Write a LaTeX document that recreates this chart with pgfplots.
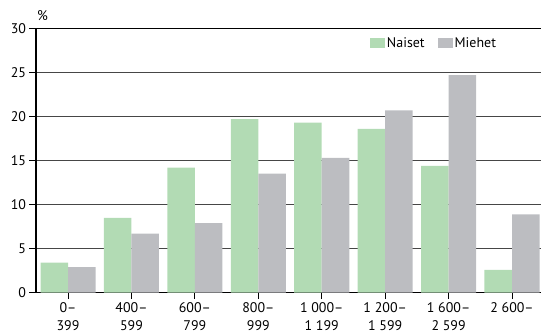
\documentclass[border=0pt]{standalone}
\usepackage{fontspec}
\setmainfont{PT Sans}
\usepackage{pgfplots}
\pgfplotsset{compat=1.18}
\definecolor{naiset}{RGB}{178,219,180}
\definecolor{miehet}{RGB}{188,189,193}
\definecolor{gridc}{RGB}{70,70,70}

\begin{document}
\begin{tikzpicture}[font=\fontsize{14}{16}\selectfont]
\begin{axis}[
    scale only axis, clip=false,
    width=505bp, height=264.4bp,
    ybar=0pt, bar width=0.434,
    xmin=-0.505, xmax=7.457,
    ymin=0, ymax=30,
    ytick={0,5,...,30},
    xtick={0,...,7},
    xticklabels={0--\\399, 400--\\599, 600--\\799, 800--\\999,
                 1 000--\\1 199, 1 200--\\1 599, 1 600--\\2 599, 2 600--},
    tick label style={font=\fontsize{14}{18}\selectfont},
    xticklabel style={align=center},
    /pgf/number format/assume math mode=true,
    axis x line*=bottom, axis y line*=left,
    axis line style={black, line width=1.2bp},
    tick style={black, line width=0.8bp},
    tick align=outside, major tick length=6.5bp,
    ymajorgrids, grid style={gridc, line width=0.8bp},
    legend style={at={(rel axis cs:0.661,0.944)}, anchor=west, draw=none,
                  fill=none, inner sep=0pt, legend columns=2,
                  font=\fontsize{14}{16}\selectfont,
                  /tikz/every even column/.append style={column sep=11bp}},
    legend image code/.code={\fill[#1] (0bp,-5bp) rectangle (15bp,5bp);},
]
\addplot[fill=naiset, draw=none] coordinates {
    (0,3.4) (1,8.5) (2,14.2) (3,19.7) (4,19.3) (5,18.6) (6,14.4) (7,2.6)};
\addplot[fill=miehet, draw=none] coordinates {
    (0,2.9) (1,6.7) (2,7.9) (3,13.5) (4,15.3) (5,20.7) (6,24.7) (7,8.9)};
\legend{Naiset, Miehet}
\draw[black, line width=1.3bp] (rel axis cs:0,1) -- (rel axis cs:1,1);
\node[anchor=south west, inner sep=0pt, xshift=1bp, yshift=7bp] at (rel axis cs:0,1) {\%};
\coordinate (ll) at (rel axis cs:0,0);
\coordinate (ur) at (rel axis cs:1,1);
\end{axis}
\pgfresetboundingbox
\path ([shift={(-36bp,-42.3bp)}]ll) rectangle ([shift={(0bp,28.3bp)}]ur);
\end{tikzpicture}
\end{document}
